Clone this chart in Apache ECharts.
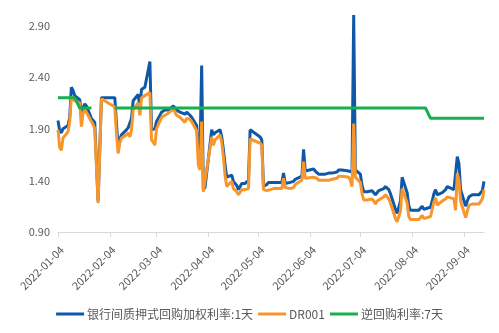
<!DOCTYPE html>
<html>
<head>
<meta charset="utf-8">
<script src="https://cdn.jsdelivr.net/npm/echarts@6/dist/echarts.min.js"></script>
<style>
  html, body { margin: 0; padding: 0; background: #fff; }
  #chart { width: 499px; height: 333px; }
</style>
</head>
<body>
<div id="chart"></div>
<script>
// Calendar span shown on the x axis (one category per day)
const firstDay = '2022-01-04';
const lastDay = '2022-09-16';

// Interbank trading days (2022, MM-DD)
const tradeDates = [
  '01-04','01-05','01-06','01-07','01-10','01-11','01-12','01-13','01-14','01-17',
  '01-18','01-19','01-20','01-21','01-24','01-25','01-26','01-28','01-30','02-07',
  '02-08','02-09','02-10','02-11','02-14','02-15','02-16','02-17','02-18','02-21',
  '02-22','02-23','02-24','02-25','02-28','03-01','03-02','03-03','03-04','03-07',
  '03-08','03-09','03-10','03-11','03-14','03-15','03-16','03-17','03-18','03-21',
  '03-22','03-23','03-24','03-25','03-28','03-29','03-30','03-31','04-01','04-02',
  '04-06','04-07','04-08','04-11','04-12','04-13','04-14','04-15','04-18','04-19',
  '04-20','04-21','04-22','04-24','04-25','04-26','04-27','04-28','04-29','05-05',
  '05-06','05-07','05-09','05-10','05-11','05-12','05-13','05-16','05-17','05-18',
  '05-19','05-20','05-23','05-24','05-25','05-26','05-27','05-30','05-31','06-01',
  '06-02','06-06','06-07','06-08','06-09','06-10','06-13','06-14','06-15','06-16',
  '06-17','06-20','06-21','06-22','06-23','06-24','06-27','06-28','06-29','06-30',
  '07-01','07-04','07-05','07-06','07-07','07-08','07-11','07-12','07-13','07-14',
  '07-15','07-18','07-19','07-20','07-21','07-22','07-25','07-26','07-27','07-28',
  '07-29','08-01','08-02','08-03','08-04','08-05','08-08','08-09','08-10','08-11',
  '08-12','08-15','08-16','08-17','08-18','08-19','08-22','08-23','08-24','08-25',
  '08-26','08-29','08-30','08-31','09-01','09-02','09-05','09-06','09-07','09-08',
  '09-09','09-13','09-14','09-15','09-16'
];

// 银行间质押式回购加权利率:1天 (%)
const repoRate1d = [
  1.98,1.88,1.86,1.90,1.93,2.01,2.30,2.27,2.22,2.18,
  2.06,2.10,2.14,2.12,2.00,1.98,1.96,1.20,2.20,2.20,
  1.95,1.72,1.80,1.84,1.89,1.91,1.92,2.00,2.17,2.23,
  2.11,2.28,2.29,2.30,2.55,1.89,1.88,1.90,1.97,2.06,
  2.06,2.08,2.08,2.08,2.12,2.11,2.08,2.07,2.06,2.04,
  2.06,2.05,2.03,2.01,1.93,1.72,1.68,2.51,1.31,1.33,
  1.89,1.84,1.86,1.89,1.82,1.70,1.55,1.43,1.45,1.39,
  1.38,1.35,1.31,1.37,1.37,1.37,1.38,1.40,1.89,1.82,
  1.79,1.34,1.36,1.38,1.38,1.38,1.38,1.38,1.38,1.38,
  1.47,1.37,1.38,1.38,1.39,1.41,1.42,1.44,1.70,1.49,
  1.48,1.51,1.49,1.48,1.46,1.45,1.46,1.47,1.47,1.47,
  1.47,1.48,1.50,1.51,1.50,1.49,1.49,1.48,1.48,3.00,
  1.50,1.46,1.35,1.29,1.29,1.29,1.30,1.28,1.26,1.28,
  1.30,1.32,1.34,1.35,1.31,1.27,1.12,1.08,1.09,1.20,
  1.43,1.28,1.15,1.11,1.11,1.11,1.11,1.11,1.15,1.12,
  1.12,1.14,1.20,1.27,1.31,1.26,1.28,1.29,1.31,1.34,
  1.34,1.31,1.30,1.63,1.56,1.31,1.15,1.20,1.24,1.25,
  1.26,1.26,1.26,1.30,1.39
];

// DR001 (%)
const dr001 = [
  1.89,1.72,1.69,1.81,1.87,1.97,2.21,2.19,2.17,2.15,
  1.92,2.05,2.08,2.06,1.97,1.94,1.90,1.18,2.19,2.11,
  1.85,1.66,1.76,1.81,1.84,1.86,1.82,1.89,2.08,2.15,
  2.03,2.20,2.21,2.22,2.25,1.79,1.77,1.74,1.90,2.01,
  2.02,2.03,2.04,2.05,2.09,2.08,2.03,2.02,2.01,1.96,
  2.00,2.00,1.99,1.97,1.88,1.55,1.50,1.97,1.29,1.30,
  1.82,1.74,1.79,1.84,1.77,1.63,1.45,1.34,1.39,1.32,
  1.31,1.29,1.26,1.31,1.30,1.31,1.31,1.32,1.80,1.76,
  1.74,1.31,1.30,1.31,1.31,1.32,1.32,1.32,1.32,1.32,
  1.42,1.33,1.32,1.32,1.33,1.36,1.37,1.40,1.58,1.42,
  1.42,1.43,1.42,1.42,1.40,1.39,1.40,1.40,1.40,1.40,
  1.41,1.42,1.44,1.44,1.44,1.43,1.43,1.40,1.34,1.95,
  1.43,1.38,1.27,1.21,1.21,1.21,1.22,1.20,1.17,1.20,
  1.21,1.24,1.26,1.27,1.22,1.18,1.03,1.00,1.01,1.10,
  1.32,1.18,1.05,1.02,1.02,1.02,1.02,1.03,1.06,1.03,
  1.03,1.05,1.12,1.19,1.23,1.16,1.20,1.20,1.22,1.24,
  1.24,1.22,1.11,1.47,1.40,1.20,1.04,1.10,1.16,1.17,
  1.17,1.17,1.17,1.22,1.31
];

// 逆回购利率:7天 (%) — null marks days without a quote
const reverseRepoDates = ['01-04','01-14','01-17','01-24','01-25','02-07','08-12','08-15','09-16'];
const reverseRepo7d   = [2.20, 2.20, 2.10, 2.10, null, 2.10, 2.10, 2.00, 2.00];

// Y axis labels
const yLabelStart = 0.9;
const yLabelStep = 0.5;

// ---- build the daily category axis ----
function pad(n) { return (n < 10 ? '0' : '') + n; }
const days = [];
{
  const d = new Date(firstDay + 'T00:00:00Z');
  const end = new Date(lastDay + 'T00:00:00Z');
  while (d <= end) {
    days.push(d.getUTCFullYear() + '-' + pad(d.getUTCMonth() + 1) + '-' + pad(d.getUTCDate()));
    d.setUTCDate(d.getUTCDate() + 1);
  }
}
const pairs = (dates, vals) => dates.map((md, i) => ['2022-' + md, vals[i] == null ? '-' : vals[i]]);
const monthMark = (idx, val) => val.slice(8) === '04';

const textColor = '#595959';
const fontFamily = '"Noto Sans CJK SC", "Noto Sans", sans-serif';

const chart = echarts.init(document.getElementById('chart'), null, { renderer: 'canvas' });
chart.setOption({
  animation: false,
  backgroundColor: '#ffffff',
  textStyle: { fontFamily: fontFamily },
  grid: { left: 58, right: 15, top: 15, bottom: 101, containLabel: false },
  legend: {
    bottom: 8,
    left: 'center',
    icon: 'rect',
    itemWidth: 28,
    itemHeight: 3,
    itemGap: 5,
    textStyle: { color: textColor, fontSize: 12, fontFamily: fontFamily, padding: [0, 0, 0, -2] },
    data: ['银行间质押式回购加权利率:1天', 'DR001', '逆回购利率:7天']
  },
  xAxis: {
    type: 'category',
    data: days,
    boundaryGap: false,
    axisLine: { show: true, lineStyle: { color: '#d9d9d9', width: 1 } },
    axisTick: { show: true, interval: monthMark, length: 5, lineStyle: { color: '#d9d9d9' } },
    axisLabel: {
      interval: monthMark,
      rotate: 45,
      color: textColor,
      fontSize: 11,
      margin: 12,
      verticalAlign: 'top',
      fontFamily: fontFamily
    },
    splitLine: { show: false }
  },
  yAxis: {
    type: 'value',
    min: 0.9,
    max: 3.0,
    interval: 0.1,
    axisLine: { show: false },
    axisTick: { show: false },
    splitLine: { show: false },
    axisLabel: {
      color: textColor,
      fontSize: 11,
      margin: 8,
      fontFamily: fontFamily,
      formatter: function (v) {
        const k = Math.round((v - yLabelStart) * 10);
        if (k % Math.round(yLabelStep * 10) !== 0 || v > 2.95) return '';
        return v.toFixed(2);
      }
    }
  },
  series: [
    {
      name: '银行间质押式回购加权利率:1天',
      type: 'line',
      data: pairs(tradeDates, repoRate1d),
      showSymbol: false, symbol: 'none',
      connectNulls: true,
      lineStyle: { color: '#0f58a8', width: 3 },
      itemStyle: { color: '#0f58a8' }
    },
    {
      name: 'DR001',
      type: 'line',
      data: pairs(tradeDates, dr001),
      showSymbol: false, symbol: 'none',
      connectNulls: true,
      lineStyle: { color: '#f7962a', width: 3 },
      itemStyle: { color: '#f7962a' }
    },
    {
      name: '逆回购利率:7天',
      type: 'line',
      data: pairs(reverseRepoDates, reverseRepo7d),
      showSymbol: false, symbol: 'none',
      connectNulls: false,
      lineStyle: { color: '#17b04f', width: 3 },
      itemStyle: { color: '#17b04f' }
    }
  ]
});
</script>
</body>
</html>
